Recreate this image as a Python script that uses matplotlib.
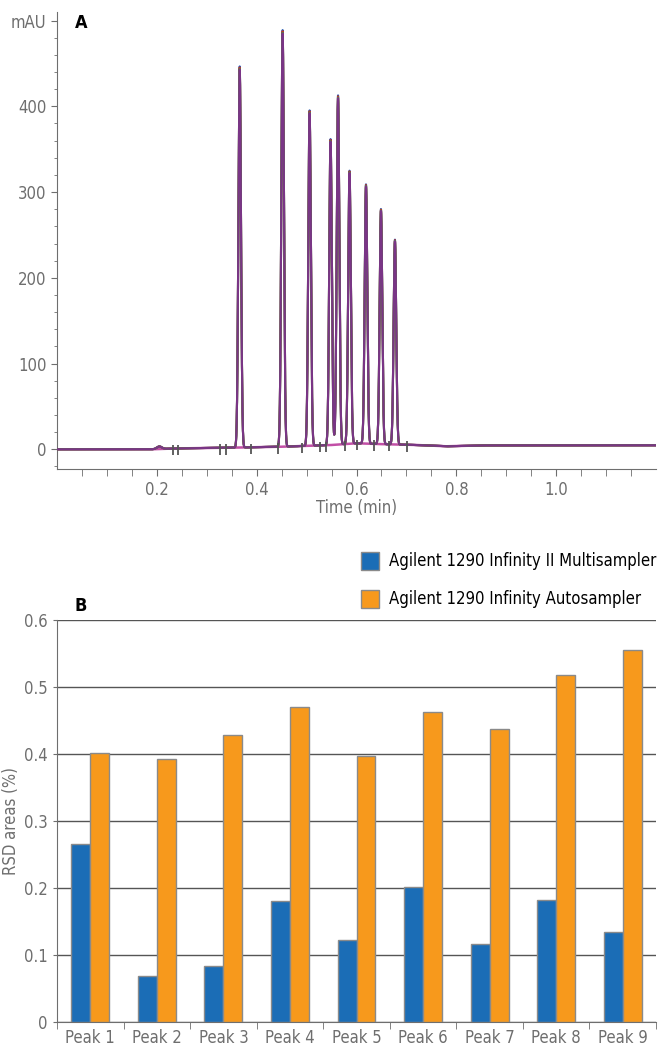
import numpy as np
import matplotlib.pyplot as plt
from matplotlib.patches import Patch

plt.rcParams['font.family'] = ['DejaVu Sans']
plt.rcParams['font.stretch'] = 'condensed'

# --- panel A: chromatogram peaks (retention time, height)
peak_times = [0.366, 0.452, 0.506, 0.548, 0.563, 0.586, 0.619, 0.649, 0.677]
peak_heights = [441, 482, 388, 354, 404, 316, 300, 272, 237]
peak_sigma = 0.0026
bump_time, bump_height = 0.205, 3.0

# baseline anchor points (min, mAU)
base_t = [0.0, 0.19, 0.24, 0.36, 0.45, 0.55, 0.60, 0.65, 0.72, 0.78, 0.85, 1.2]
base_y = [0.0, 0.0, 1.0, 2.0, 3.0, 5.0, 7.0, 6.0, 5.0, 3.5, 4.5, 4.7]

# injections overlaid: scale factor and colour
run_scale = [1.008, 1.005, 1.002, 1.0]
run_colors = ['#2457b0', '#e0261f', '#3e9a3a', '#7a3586']

# integration event marks
event_t = [0.232, 0.242, 0.326, 0.338, 0.388, 0.442, 0.490, 0.526, 0.538,
           0.576, 0.600, 0.636, 0.666, 0.702]

# --- panel B: RSD of areas
peaks = ['Peak 1', 'Peak 2', 'Peak 3', 'Peak 4', 'Peak 5', 'Peak 6', 'Peak 7', 'Peak 8', 'Peak 9']
multisampler = [0.266, 0.069, 0.084, 0.180, 0.122, 0.201, 0.117, 0.182, 0.134]
autosampler = [0.401, 0.393, 0.429, 0.470, 0.397, 0.463, 0.437, 0.518, 0.555]

grey = '#6e6e6e'
W, H = 662, 1047
fig = plt.figure(figsize=(W / 100, H / 100), dpi=100)

def ax_rect(l, t, r, b):
    return [l / W, 1 - b / H, (r - l) / W, (b - t) / H]

# ---------------- A
ax = fig.add_axes(ax_rect(57, 12, 656, 469))
t = np.linspace(0, 1.2, 8000)
base = np.interp(t, base_t, base_y)
sig = bump_height * np.exp(-0.5 * ((t - bump_time) / 0.005) ** 2)
for pt, ph in zip(peak_times, peak_heights):
    sig = sig + ph * np.exp(-0.5 * ((t - pt) / peak_sigma) ** 2)
ax.plot(base_t, base_y, color='#c24fa6', lw=1.8, zorder=2)
for s, c in zip(run_scale, run_colors):
    ax.plot(t, base + sig * s, color=c, lw=1.5, zorder=3)
ev_base = np.interp(event_t, base_t, base_y)
ax.vlines(event_t, ev_base - 8, ev_base + 4, color='#555555', lw=1.3, zorder=4)

ax.set_xlim(0, 1.2)
ax.set_ylim(-23, 510)
ax.set_xticks([0.2, 0.4, 0.6, 0.8, 1.0])
ax.set_xticklabels(['0.2', '0.4', '0.6', '0.8', '1.0'])
ax.set_xticks(np.arange(0.05, 1.2, 0.05), minor=True)
ax.set_yticks([0, 100, 200, 300, 400, 500])
ax.set_yticklabels(['0', '100', '200', '300', '400', 'mAU'])
ax.set_yticks(np.arange(-20, 510, 20), minor=True)
for side in ['top', 'right']:
    ax.spines[side].set_visible(False)
for side in ['left', 'bottom']:
    ax.spines[side].set_color(grey)
ax.tick_params(axis='both', which='both', colors=grey, labelcolor=grey, labelsize=12)
ax.tick_params(axis='x', which='both', length=5)
ax.tick_params(axis='y', which='major', length=4)
ax.tick_params(axis='y', which='minor', length=2)
ax.set_xlabel('Time (min)', color=grey, fontsize=12, labelpad=0)
ax.text(0.03, 0.995, 'A', transform=ax.transAxes, fontsize=13, fontweight='bold',
        va='top', color='black')

# ---------------- B
bx = fig.add_axes(ax_rect(57, 620, 656, 1022))
x = np.arange(len(peaks))
bw = 0.285
bx.bar(x - bw / 2, multisampler, bw, color='#1b6db6', edgecolor='#8a8a8a', lw=1, zorder=3)
bx.bar(x + bw / 2, autosampler, bw, color='#f7991c', edgecolor='#8a8a8a', lw=1, zorder=3)
bx.set_xlim(-0.5, len(peaks) - 0.5)
bx.set_ylim(0, 0.6)
bx.set_yticks([0, 0.1, 0.2, 0.3, 0.4, 0.5, 0.6])
bx.set_yticklabels(['0', '0.1', '0.2', '0.3', '0.4', '0.5', '0.6'])
bx.yaxis.grid(True, color='#555555', lw=1)
bx.set_axisbelow(True)
bx.set_xticks(x)
bx.set_xticklabels(peaks)
bx.set_xticks(np.arange(-0.5, len(peaks), 1), minor=True)
bx.tick_params(axis='x', which='major', length=0, pad=5)
bx.tick_params(axis='x', which='minor', length=5, colors=grey)
bx.tick_params(axis='y', length=3, colors=grey)
bx.tick_params(axis='both', labelcolor=grey, labelsize=12)
for side in ['top', 'right']:
    bx.spines[side].set_visible(False)
for side in ['left', 'bottom']:
    bx.spines[side].set_color(grey)
bx.set_ylabel('RSD areas (%)', color=grey, fontsize=12)
bx.yaxis.set_label_coords(-0.062, 0.5)
bx.text(0.03, 1.012, 'B', transform=bx.transAxes, fontsize=13, fontweight='bold',
        va='bottom', color='black')
handles = [Patch(facecolor='#1b6db6', edgecolor='#8a8a8a'),
           Patch(facecolor='#f7991c', edgecolor='#8a8a8a')]
fig.legend(handles, ['Agilent 1290 Infinity II Multisampler', 'Agilent 1290 Infinity Autosampler'],
           loc='upper left', bbox_to_anchor=(354 / W, 1 - 545 / H), frameon=False,
           fontsize=12, handlelength=1.1, handleheight=1.3, handletextpad=0.6,
           labelspacing=1.15, borderaxespad=0)

fig.savefig('out.png', dpi=100)
